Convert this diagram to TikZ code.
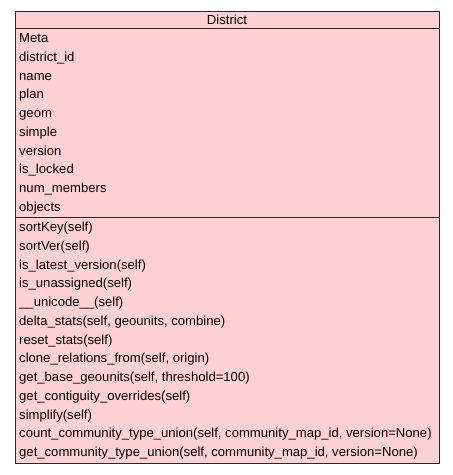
\documentclass[tikz,border=0pt]{standalone}
\usepackage{fontspec}
\setmainfont{Liberation Sans}
\definecolor{boxfill}{RGB}{255,209,213}
\definecolor{boxline}{RGB}{40,40,40}
\begin{document}
\begin{tikzpicture}[x=1pt,y=-1pt,
  rowtext/.style={anchor=base west,inner sep=0pt,font=\fontsize{13.1}{15}\selectfont},
  headtext/.style={anchor=base,inner sep=0pt,font=\fontsize{13.1}{15}\selectfont}]
\useasboundingbox (0,0) rectangle (453,475);
\fill[boxline!60] (16,12) rectangle (440,464);
\draw[boxline,fill=boxfill,line width=1pt] (15,11) rectangle (439,463);
\draw[boxline,line width=1pt] (15,28.5) -- (439,28.5);
\draw[boxline,line width=1pt] (15,217.5) -- (439,217.5);
\node[headtext] (h) at (227,24.2) {District};
\foreach \t [count=\i from 0] in {Meta,district\_id,name,plan,geom,simple,version,is\_locked,num\_members,objects}
  \node[rowtext] (a\i) at (19,42.7+\i*18.75) {\t};
\foreach \t [count=\i from 0] in {sortKey(self),sortVer(self),is\_latest\_version(self),is\_unassigned(self),\_\_unicode\_\_(self),{delta\_stats(self, geounits, combine)},reset\_stats(self),{clone\_relations\_from(self, origin)},{get\_base\_geounits(self, threshold=100)},get\_contiguity\_overrides(self),simplify(self),{count\_community\_type\_union(self, community\_map\_id, version=None)},{get\_community\_type\_union(self, community\_map\_id, version=None)}}
  \node[rowtext] (m\i) at (19,231.7+\i*18.75) {\t};
\end{tikzpicture}
\end{document}
